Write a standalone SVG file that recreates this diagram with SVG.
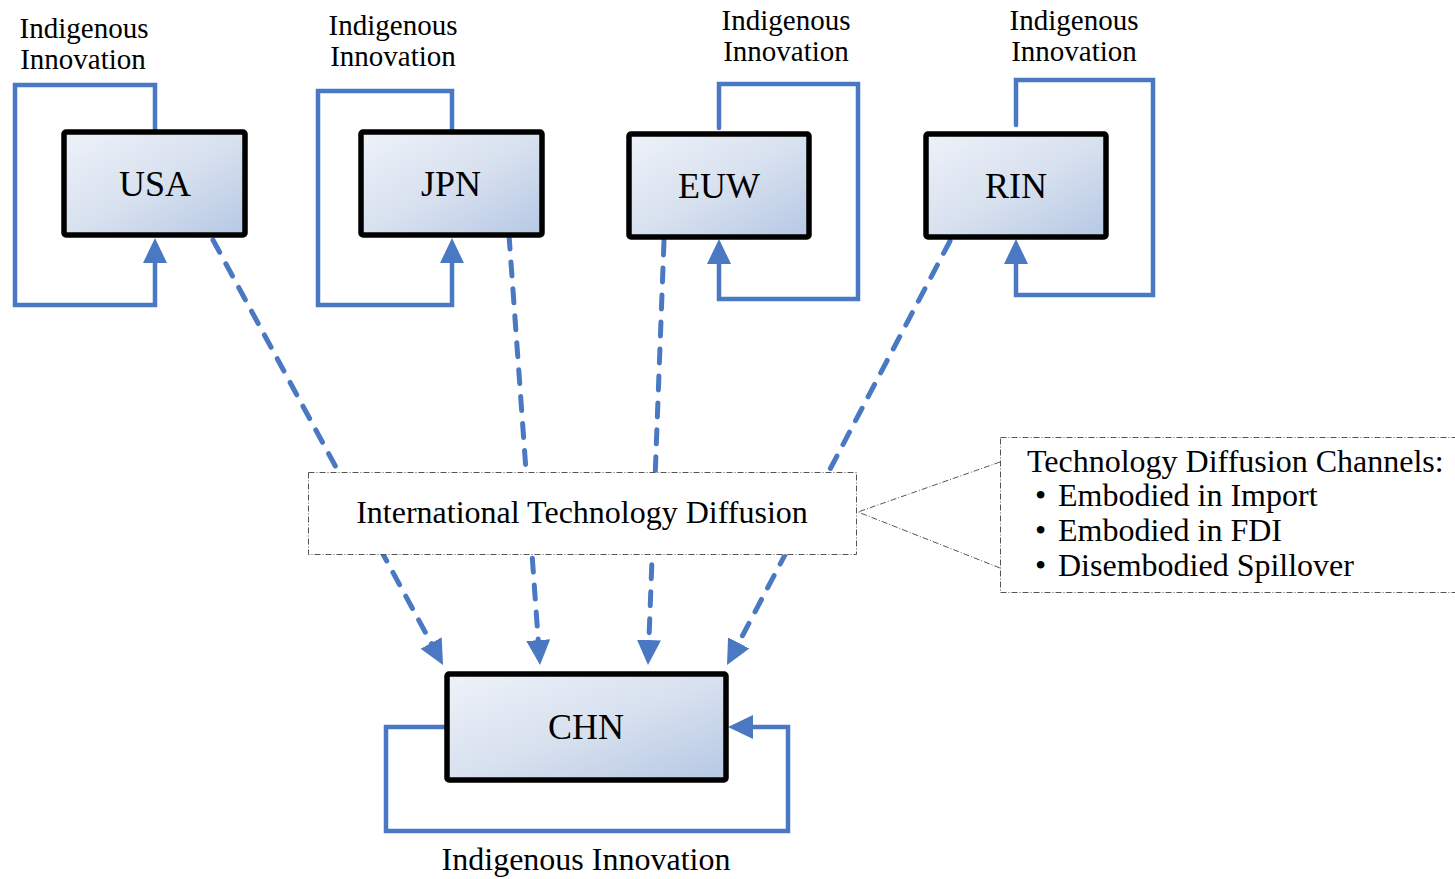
<svg xmlns="http://www.w3.org/2000/svg" width="1455" height="879" viewBox="0 0 1455 879">
<style>
text{font-family:"Liberation Serif","Times New Roman",serif;fill:#000}
.lbl{font-size:29px;text-anchor:middle}
.nlbl{font-size:36px;text-anchor:middle}
.body{font-size:32px}
.loop{fill:none;stroke:#4A78C2;stroke-width:4.5;stroke-linejoin:miter;stroke-linecap:round}
.dash{fill:none;stroke:#4A78C2;stroke-width:5;stroke-linecap:round;stroke-dasharray:14 13}
.box{fill:url(#g);stroke:#000;stroke-width:5.5}
.dd{fill:#fff;stroke:#555;stroke-width:1;stroke-dasharray:6 2 1 2}
.ddl{fill:none;stroke:#555;stroke-width:1;stroke-dasharray:6 2 1 2}
</style>
<defs>
<linearGradient id="g" x1="0" y1="0" x2="1" y2="1">
<stop offset="0" stop-color="#eef2f9"/>
<stop offset="0.5" stop-color="#d8e1ef"/>
<stop offset="1" stop-color="#b6c8e4"/>
</linearGradient>
<marker id="ah" viewBox="0 0 25 24" refX="1" refY="12" markerWidth="25" markerHeight="24" markerUnits="userSpaceOnUse" orient="auto">
<path d="M0,0 L25,12 L0,24 z" fill="#4A78C2"/>
</marker>
</defs>
<g id="connectors">
<path class="loop" d="M155,133 V85 H15 V305 H155 V262" marker-end="url(#ah)"/>
<path class="loop" d="M452,133 V91 H318 V305 H452 V262" marker-end="url(#ah)"/>
<path class="loop" d="M719,128 V84 H858 V299 H719 V263" marker-end="url(#ah)"/>
<path class="loop" d="M1016,125 V80 H1153 V295 H1016 V263" marker-end="url(#ah)"/>
<path class="loop" d="M448,727 H386 V831 H788 V727 H752" marker-end="url(#ah)"/>
<path class="dash" d="M213,240 L431.6,643.9" marker-end="url(#ah)"/>
<path class="dash" d="M509,235 L538.3,641.1" marker-end="url(#ah)"/>
<path class="dash" d="M664,241 L648.9,641" marker-end="url(#ah)"/>
<path class="dash" d="M950,241 L738.2,643.8" marker-end="url(#ah)"/>
<path class="ddl" d="M1000,462 L858,512 L1000,568"/>
</g>
<g id="usa">
<rect class="box" x="64" y="132" width="181" height="103" rx="2"/>
<text class="nlbl" x="155" y="196">USA</text>
<text class="lbl" x="84" y="38">Indigenous</text>
<text class="lbl" x="83" y="69">Innovation</text>
</g>
<g id="jpn">
<rect class="box" x="361" y="132" width="181" height="103" rx="2"/>
<text class="nlbl" x="451" y="196">JPN</text>
<text class="lbl" x="393" y="35">Indigenous</text>
<text class="lbl" x="393" y="66">Innovation</text>
</g>
<g id="euw">
<rect class="box" x="629" y="134" width="180" height="103" rx="2"/>
<text class="nlbl" x="719" y="198">EUW</text>
<text class="lbl" x="786" y="30">Indigenous</text>
<text class="lbl" x="786" y="61">Innovation</text>
</g>
<g id="rin">
<rect class="box" x="926" y="134" width="180" height="103" rx="2"/>
<text class="nlbl" x="1016" y="198">RIN</text>
<text class="lbl" x="1074" y="30">Indigenous</text>
<text class="lbl" x="1074" y="61">Innovation</text>
</g>
<g id="chn">
<rect class="box" x="447" y="674" width="279" height="106" rx="2"/>
<text class="nlbl" x="586" y="739">CHN</text>
<text class="body" x="586" y="870" text-anchor="middle">Indigenous Innovation</text>
</g>
<g id="itd">
<rect class="dd" x="308.5" y="472.5" width="548" height="82"/>
<text class="body" x="582" y="523" text-anchor="middle">International Technology Diffusion</text>
</g>
<g id="channels">
<rect class="dd" x="1000.5" y="437.5" width="470" height="155"/>
<text class="body" x="1027" y="472">Technology Diffusion Channels:</text>
<text class="body" x="1035" y="506">• <tspan x="1058">Embodied in Import</tspan></text>
<text class="body" x="1035" y="541">• <tspan x="1058">Embodied in FDI</tspan></text>
<text class="body" x="1035" y="576">• <tspan x="1058">Disembodied Spillover</tspan></text>
</g>
</svg>
